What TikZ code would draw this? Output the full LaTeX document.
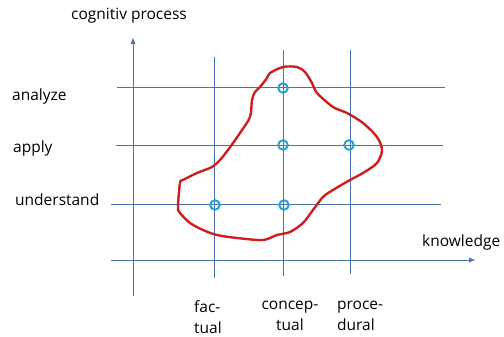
\documentclass[tikz,border=0pt]{standalone}
\usepackage{fontspec}
\setmainfont{Open Sans}
\usetikzlibrary{positioning,arrows.meta}
\definecolor{axisblue}{HTML}{4A72B0}
\definecolor{pointblue}{HTML}{2AA0D4}
\definecolor{blobred}{HTML}{CC1F1F}
\tikzset{
	x=1pt, y=-1pt,
	axis/.style = {draw=axisblue, line width=0.8pt, -{Triangle[length=6pt,width=4.5pt]}},
	gridline/.style = {draw=axisblue, line width=0.7pt},
	point/.style = {circle, draw=pointblue, line width=2pt, inner sep=0pt,
	 minimum size=9.5pt, node contents={}},
	lbl/.style = {font=\fontsize{15.5}{21}\selectfont, inner sep=0pt},
	blob/.style = {draw=blobred, line width=2.4pt, line join=round},
}
\begin{document}
\begin{tikzpicture}
	\useasboundingbox (0,0) rectangle (504,337);
	% axes
	\coordinate (yfoot) at (133,296);
	\coordinate (ytop) at (133,38);
	\coordinate (xfoot) at (111,260);
	\coordinate (xtop) at (475,260);
	\draw[axis] (yfoot) -- (ytop);
	\draw[axis] (xfoot) -- (xtop);
	% grid
	\foreach \name/\x/\ya/\yb in {fac/214/57/278, con/283/50/276, pro/350/50/274}{
		\coordinate (\name-a) at (\x,\ya);
		\coordinate (\name-b) at (\x,\yb);
		\draw[gridline] (\name-a) -- (\name-b);
	}
	\foreach \name/\y/\xa/\xb in {ana/87/117/445, app/145/116/443, und/204/111/441}{
		\coordinate (\name-a) at (\xa,\y);
		\coordinate (\name-b) at (\xb,\y);
		\draw[gridline] (\name-a) -- (\name-b);
	}
	% region
	\draw[blob] plot[smooth cycle, tension=0.5] coordinates {
		(270,73) (283,67) (297,67) (305,72) (312,83) (317,93) (333,107)
		(347,113) (363,123) (377,137) (382,150) (377,163) (363,173) (350,180)
		(333,190) (323,197) (313,210) (303,223) (290,232) (277,235) (263,240)
		(237,238) (217,235) (203,230) (190,223) (180,213) (178,207) (180,183)
		(183,180) (197,173) (212,167) (220,160) (228,150) (240,133) (250,117)
		(252,100) (255,92) (260,87) (267,78)};
	% points
	\node (con-ana) at (283,88) [point];
	\node (con-app) at (283,145) [point];
	\node (pro-app) at (349,145) [point];
	\node (fac-und) at (215,205) [point];
	\node (con-und) at (284,205) [point];
	% labels
	\node (ylabel) at (129,16) [lbl] {cognitiv process};
	\node (xlabel) at (422,242) [lbl, anchor=west] {knowledge};
	\node (analyze) at (12,96) [lbl, anchor=west] {analyze};
	\node (apply) at (13,148) [lbl, anchor=west] {apply};
	\node (understand) at (15,200) [lbl, anchor=west] {understand};
	\node (factual) at (194,317) [lbl, anchor=west, align=left] {fac-\\tual};
	\node (conceptual) at (290,316) [lbl, align=center] {concep-\\tual};
	\node (procedural) at (337,316) [lbl, anchor=west, align=left] {proce-\\dural};
\end{tikzpicture}
\end{document}
